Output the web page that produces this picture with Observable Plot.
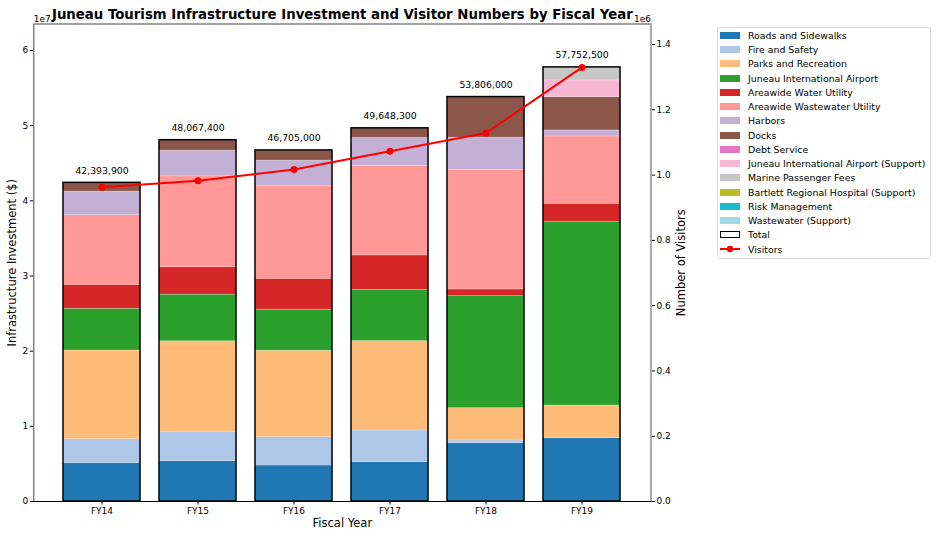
<!DOCTYPE html>
<html><head><meta charset="utf-8">
<script src="https://cdn.jsdelivr.net/npm/d3@7"></script>
<script src="https://cdn.jsdelivr.net/npm/@observablehq/plot@0.6"></script>
<style>
body{margin:0;background:#fff;font-family:"DejaVu Sans",sans-serif;}
#wrap{position:relative;width:937px;height:538px;}
#legend{position:absolute;left:717px;top:27px;width:214px;height:232px;border:1px solid #d9d9d9;border-radius:3px;box-sizing:border-box;font-size:9.4px;background:#fff;}
.item{position:absolute;left:2px;height:14px;display:flex;align-items:center;white-space:nowrap;color:#000;}
.sw{width:20px;height:7px;margin-right:8px;box-sizing:border-box;flex:none;}
</style></head>
<body><div id="wrap"><div id="chart"></div><div id="legend"></div></div>
<script>
const years = ["FY14","FY15","FY16","FY17","FY18","FY19"];
const categories = ["Roads and Sidewalks","Fire and Safety","Parks and Recreation","Juneau International Airport","Areawide Water Utility","Areawide Wastewater Utility","Harbors","Docks","Debt Service","Juneau International Airport (Support)","Marine Passenger Fees","Bartlett Regional Hospital (Support)","Risk Management","Wastewater (Support)"];
const colors = ["#1f77b4","#aec7e8","#ffbb78","#2ca02c","#d62728","#ff9896","#c5b0d5","#8c564b","#e377c2","#f7b6d2","#c7c7c7","#bcbd22","#17becf","#9edae5"];
const roads = [5100000, 5360000, 4790000, 5230000, 7760000, 8420000];
const fire = [3190000, 3860000, 3770000, 4210000, 360000, 0];
const parks = [11800000, 12100000, 11500000, 11900000, 4300000, 4350000];
const airport = [5550000, 6200000, 5450000, 6830000, 14900000, 24400000];
const water = [3190000, 3640000, 4120000, 4570000, 890000, 2440000];
const wastewater = [9250000, 12100000, 12300000, 11900000, 15900000, 8960000];
const harbors = [3150000, 3420000, 3420000, 3720000, 4300000, 800000];
const docks = [1163900, 1387400, 1355000, 1288300, 5396000, 4430000];
const debtService = [0, 0, 0, 0, 0, 0];
const airportSupport = [0, 0, 0, 0, 0, 2220000];
const marineFees = [0, 0, 0, 0, 0, 1732500];
const bartlett = [0, 0, 0, 0, 0, 0];
const riskMgmt = [0, 0, 0, 0, 0, 0];
const wastewaterSupport = [0, 0, 0, 0, 0, 0];
const visitors = [963000, 983000, 1017000, 1073000, 1129000, 1330000];
const leftTicks = [0, 1e7, 2e7, 3e7, 4e7, 5e7, 6e7];
const rightTicks = [0, 200000, 400000, 600000, 800000, 1000000, 1200000, 1400000];

const series = [roads, fire, parks, airport, water, wastewater, harbors, docks, debtService, airportSupport, marineFees, bartlett, riskMgmt, wastewaterSupport];
const long = [];
years.forEach((y, i) => categories.forEach((c, j) => long.push({year: y, category: c, value: series[j][i]})));
const totals = years.map((y, i) => ({year: y, total: d3.sum(series, s => s[i])}));
const visData = years.map((y, i) => ({year: y, v: visitors[i]}));
const yMax = d3.max(totals, d => d.total) * 1.1;
const vMax = d3.max(visitors) * 1.1;
const k = yMax / vMax;
const fmt = d3.format(",");

const chart = Plot.plot({
  width: 937, height: 538,
  marginLeft: 33.3, marginRight: 286.6, marginTop: 23.5, marginBottom: 37,
  style: {fontFamily: "DejaVu Sans", fontSize: "9px", color: "#000", background: "#fff"},
  x: {domain: years, paddingInner: 0.2, paddingOuter: 0.29},
  y: {domain: [0, yMax]},
  color: {domain: categories, range: colors},
  marks: [
    Plot.barY(long, {x: "year", y: "value", fill: "category", stroke: "#fff", strokeOpacity: 0.35, strokeWidth: 0.6}),
    Plot.barY(totals, {x: "year", y: "total", fill: "none", stroke: "#000", strokeWidth: 1.5}),
    Plot.text(totals, {x: "year", y: "total", text: d => fmt(d.total), dy: -12, fontSize: 9.3, fill: "#000"}),
    Plot.line(visData, {x: "year", y: d => d.v * k, stroke: "red", strokeWidth: 2}),
    Plot.dot(visData, {x: "year", y: d => d.v * k, r: 3.5, fill: "red"}),
    Plot.axisX({tickSize: 3.5, tickPadding: 3, label: null, fontSize: 9}),
    Plot.axisY({ticks: leftTicks, tickFormat: d => String(d / 1e7), tickSize: 3.5, tickPadding: 2, label: null}),
    Plot.axisY({anchor: "right", ticks: rightTicks.map(v => v * k), tickFormat: d => (d / k / 1e6).toFixed(1), tickSize: 3.5, tickPadding: 2, label: null}),
    Plot.frame({stroke: "#444", strokeWidth: 1}),
    Plot.frame({anchor: "right", stroke: "#aaa", strokeWidth: 2}),
    Plot.frame({anchor: "bottom", stroke: "#000", strokeWidth: 1.2}),
    Plot.text(["Juneau Tourism Infrastructure Investment and Visitor Numbers by Fiscal Year"], {frameAnchor: "top", dy: -14, fontSize: 13.3, fontWeight: "bold", fill: "#000"}),
    Plot.text(["1e7"], {frameAnchor: "top-left", dy: -8, textAnchor: "start", fontSize: 9, fill: "#000"}),
    Plot.text(["1e6"], {frameAnchor: "top-right", dy: -8, textAnchor: "end", fontSize: 9, fill: "#000"}),
    Plot.text(["Infrastructure Investment ($)"], {frameAnchor: "left", textAnchor: "middle", dx: -21, rotate: -90, fontSize: 11.5, fill: "#000"}),
    Plot.text(["Number of Visitors"], {frameAnchor: "right", textAnchor: "middle", dx: 30, rotate: -90, fontSize: 11.5, fill: "#000"}),
    Plot.text(["Fiscal Year"], {frameAnchor: "bottom", dy: 25, fontSize: 11.5, fill: "#000"})
  ]
});
document.getElementById("chart").appendChild(chart);

const leg = document.getElementById("legend");
const items = categories.map((c, i) => ({label: c, type: "patch", color: colors[i]}));
items.push({label: "Total", type: "total"});
items.push({label: "Visitors", type: "line"});
items.forEach((it, i) => {
  const row = document.createElement("div");
  row.className = "item";
  row.style.top = (0.3 + i * 14.25) + "px";
  let sw;
  if (it.type === "patch") {
    sw = `<div class="sw" style="background:${it.color}"></div>`;
  } else if (it.type === "total") {
    sw = `<div class="sw" style="border:1.5px solid #000;background:#fff"></div>`;
  } else {
    sw = `<svg width="20" height="8" style="margin-right:8px;flex:none"><line x1="0" y1="4" x2="20" y2="4" stroke="red" stroke-width="2"/><circle cx="10" cy="4" r="3.2" fill="red"/></svg>`;
  }
  row.innerHTML = sw + `<span>${it.label}</span>`;
  leg.appendChild(row);
});
</script></body></html>
